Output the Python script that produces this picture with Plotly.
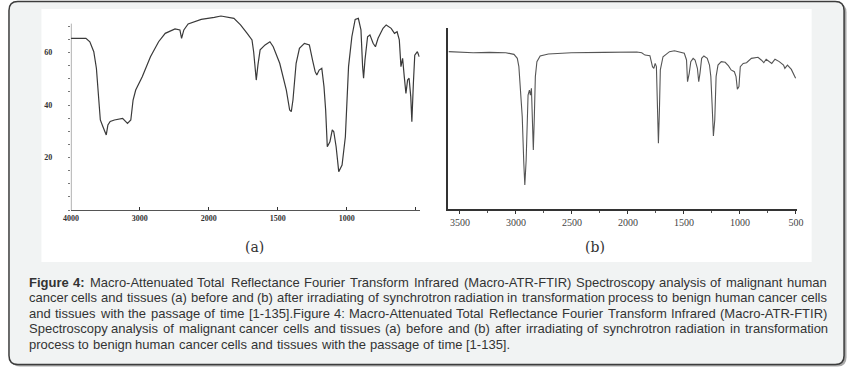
import plotly.graph_objects as go

W, H = 855, 368

# ---------------- data ----------------
# Panel (a): wavenumber (cm-1) vs transmittance (%)
a_wavenumber = [4000, 3782, 3725, 3668, 3630, 3606, 3573, 3535, 3487, 3463, 3430, 3369, 3250, 3179, 3131,
                3098, 3060, 2965, 2917, 2846, 2728, 2632, 2490, 2419, 2395, 2362, 2300, 2110, 1960, 1912,
                1818, 1770, 1722, 1687, 1675, 1663, 1656, 1644, 1628, 1592, 1557, 1533, 1486, 1438, 1414,
                1402, 1390, 1367, 1343, 1307, 1271, 1248, 1229, 1217, 1200, 1181, 1165, 1153, 1141, 1122,
                1105, 1094, 1077, 1058, 1034, 1010, 999, 987, 963, 939, 916, 897, 885, 878, 868,
                849, 832, 809, 792, 773, 737, 714, 678, 654, 635, 619, 607, 595, 583, 571,
                559, 548, 536, 528, 517, 507, 488, 474]
a_transmittance = [65.4, 65.4, 64.1, 60.3, 54.0, 45.7, 34.3, 31.7, 28.6, 32.4, 33.7, 34.3, 34.9, 33.0, 34.3,
                   41.9, 45.7, 50.8, 54.0, 58.4, 64.1, 67.3, 69.0, 68.6, 65.4, 68.6, 70.9, 72.6, 73.4, 73.9,
                   73.0, 70.5, 67.3, 64.8, 60.3, 54.6, 49.5, 55.2, 61.0, 62.9, 64.1, 62.2, 55.9, 45.7, 38.1,
                   37.5, 41.9, 55.9, 61.6, 63.5, 62.9, 57.1, 52.7, 51.4, 53.3, 54.0, 47.0, 38.1, 24.1, 26.0,
                   30.5, 29.8, 24.1, 14.6, 17.1, 27.9, 43.2, 54.6, 66.0, 72.6, 73.0, 68.6, 54.6, 50.2, 57.1,
                   66.0, 66.7, 63.5, 62.2, 65.4, 69.2, 70.5, 69.2, 67.3, 67.9, 64.8, 54.6, 57.8, 50.8, 44.4,
                   49.5, 50.2, 43.2, 33.6, 48.3, 59.0, 60.3, 58.4]
a_tick_wavenumbers = [4000, 3000, 2000, 1500, 1000, 500]
a_tick_labels = ["4000", "3000", "2000", "1500", "1000", ""]
a_y_ticks = [0, 5, 10, 15, 20, 25, 30, 35, 40, 45, 50, 55, 60, 65, 70]
a_y_labels = ["", "", "", "", "20", "", "", "", "40", "", "", "", "60", "", ""]

# Panel (b): wavenumber (cm-1) vs transmittance (arbitrary units)
b_wavenumber = [3602, 3383, 3237, 3091, 3018, 2988, 2974, 2959, 2944, 2930, 2921, 2909, 2901, 2892, 2880,
                2871, 2862, 2857, 2845, 2836, 2827, 2813, 2784, 2711, 2506, 2213, 1921, 1877, 1848, 1804,
                1781, 1769, 1757, 1746, 1734, 1728, 1719, 1711, 1687, 1629, 1585, 1541, 1497, 1477, 1468,
                1453, 1439, 1418, 1401, 1380, 1368, 1357, 1342, 1322, 1292, 1272, 1260, 1249, 1237, 1225,
                1213, 1196, 1167, 1132, 1102, 1079, 1050, 1035, 1023, 1009, 997, 971, 941, 898, 839,
                810, 787, 766, 737, 716, 687, 649, 611, 599, 576, 541, 503]
b_transmittance = [87.1, 86.5, 86.7, 86.5, 85.6, 83.4, 78.8, 64.1, 51.2, 25.4, 13.4, 27.2, 49.3, 63.1, 65.9,
                   63.1, 66.9, 56.7, 32.8, 51.2, 73.3, 81.6, 84.7, 85.8, 86.5, 86.7, 86.9, 86.5, 85.2, 84.9,
                   78.8, 77.9, 80.6, 78.8, 45.7, 36.5, 54.9, 77.0, 84.3, 87.1, 87.6, 87.1, 86.2, 82.5, 70.5,
                   75.1, 81.6, 83.4, 82.5, 77.9, 70.5, 75.1, 83.4, 84.7, 83.4, 79.7, 73.3, 58.5, 40.5, 49.3,
                   73.3, 79.7, 81.6, 81.2, 79.2, 77.0, 76.0, 73.3, 66.3, 67.8, 78.8, 80.6, 81.0, 83.4, 84.0,
                   82.5, 81.0, 82.9, 81.6, 80.6, 82.9, 81.6, 79.7, 77.9, 79.7, 77.3, 72.4]
b_tick_values = [3500, 3000, 2500, 2000, 1500, 1000, 500]

caption_bold = "Figure 4:"
caption_lines = [
    "Figure 4: Macro-Attenuated Total Reflectance Fourier Transform Infrared (Macro-ATR-FTIR) Spectroscopy analysis of malignant human",
    "cancer cells and tissues (a) before and (b) after irradiating of synchrotron radiation in transformation process to benign human cancer cells",
    "and tissues with the passage of time [1-135].Figure 4: Macro-Attenuated Total Reflectance Fourier Transform Infrared (Macro-ATR-FTIR)",
    "Spectroscopy analysis of malignant cancer cells and tissues (a) before and (b) after irradiating of synchrotron radiation in transformation",
    "process to benign human cancer cells and tissues with the passage of time [1-135].",
]


# split-scale axis of panel (a): 1000 cm-1 per division above 2000, 500 cm-1 per division below
def split_scale(wn):
    return (4000 - wn) / 1000 if wn >= 2000 else 2 + (2000 - wn) / 500


def px(x):
    return x / W


def py(y):
    return 1 - y / H


def rrect(x0, y0, x1, y1, r):
    pts = [("M", x0 + r, y0), ("L", x1 - r, y0), ("Q", x1, y0, x1, y0 + r), ("L", x1, y1 - r),
           ("Q", x1, y1, x1 - r, y1), ("L", x0 + r, y1), ("Q", x0, y1, x0, y1 - r), ("L", x0, y0 + r),
           ("Q", x0, y0, x0 + r, y0)]
    s = ""
    for p in pts:
        cmd = p[0]
        coords = p[1:]
        parts = []
        for i in range(0, len(coords), 2):
            parts.append(f"{px(coords[i]):.5f},{py(coords[i + 1]):.5f}")
        s += cmd + " " + " ".join(parts) + " "
    return s + "Z"


# Arial / Liberation Sans advance widths (1/1000 em) for justified caption layout
_REG = {" ": 278, "a": 556, "b": 556, "c": 500, "d": 556, "e": 556, "f": 278, "g": 556, "h": 556, "i": 222,
        "j": 222, "k": 500, "l": 222, "m": 833, "n": 556, "o": 556, "p": 556, "q": 556, "r": 333, "s": 500,
        "t": 278, "u": 556, "v": 500, "w": 722, "x": 500, "y": 500, "z": 500,
        "A": 667, "B": 667, "C": 722, "D": 722, "E": 667, "F": 611, "G": 778, "H": 722, "I": 278, "J": 500,
        "K": 667, "L": 556, "M": 833, "N": 722, "O": 778, "P": 667, "Q": 778, "R": 722, "S": 667, "T": 611,
        "U": 722, "V": 667, "W": 944, "X": 667, "Y": 667, "Z": 611,
        "(": 333, ")": 333, "[": 278, "]": 278, "-": 333, ".": 278, ":": 278, ",": 278}
_BOLD = {"F": 611, "i": 278, "g": 611, "u": 611, "r": 389, "e": 556, "4": 556, ":": 333, " ": 278}


def text_width(s, size, bold=False):
    tbl = _BOLD if bold else _REG
    return sum(tbl.get(ch, _REG.get(ch, 556)) for ch in s) * size / 1000


fig = go.Figure()

fig.add_trace(go.Scatter(
    x=[split_scale(w) for w in a_wavenumber], y=a_transmittance, mode="lines",
    line=dict(color="#3a3a3a", width=1.2), xaxis="x", yaxis="y", showlegend=False, hoverinfo="skip"))

fig.add_trace(go.Scatter(
    x=b_wavenumber, y=b_transmittance, mode="lines",
    line=dict(color="#555555", width=1.1), xaxis="x2", yaxis="y2", showlegend=False, hoverinfo="skip"))

tick_font_a = dict(family="Liberation Serif", size=8, color="#333333")
tick_font_b = dict(family="Liberation Serif", size=10, color="#444444")

fig.update_layout(
    width=W, height=H, margin=dict(l=0, r=0, t=0, b=0),
    paper_bgcolor="white", plot_bgcolor="rgba(0,0,0,0)",
    xaxis=dict(domain=[px(64), px(419)], range=[0, 5.057], showgrid=False, zeroline=False,
               showline=True, linecolor="#555555", linewidth=1,
               tickmode="array", tickvals=[split_scale(w) for w in a_tick_wavenumbers],
               ticktext=["<b>%s</b>" % t if t else "" for t in a_tick_labels],
               ticks="inside", ticklen=3, tickcolor="#333333", tickfont=tick_font_a, anchor="y"),
    yaxis=dict(domain=[py(210), py(10.5)], range=[0, 76], showgrid=False, zeroline=False,
               showline=False, tickmode="array", tickvals=a_y_ticks,
               ticktext=["<b>%s</b>" % t if t else "" for t in a_y_labels],
               ticks="outside", ticklen=2, tickcolor="#777777", tickfont=tick_font_a,
               ticklabelstandoff=14, anchor="x"),
    xaxis2=dict(domain=[px(448.3), px(802.7)], range=[3603, 494], showgrid=False, zeroline=False,
                showline=True, linecolor="#333333", linewidth=1.5,
                tickmode="array", tickvals=b_tick_values, ticktext=[str(v) for v in b_tick_values],
                ticks="outside", ticklen=3, tickcolor="#333333", tickfont=tick_font_b,
                minor=dict(ticks="outside", ticklen=2, dtick=250, tickcolor="#555555"),
                anchor="y2"),
    yaxis2=dict(domain=[py(209.3), py(28.3)], range=[0, 100], showgrid=False, zeroline=False,
                showline=True, linecolor="#333333", linewidth=1.5, showticklabels=False, ticks="",
                anchor="x2"),
)

shapes = [
    # outer box shadow
    dict(type="path", path=rrect(3, 3.5, 853.5, 366.5, 9), xref="paper", yref="paper",
         fillcolor="#a8a8a8", line=dict(width=0), layer="below"),
    # outer box
    dict(type="path", path=rrect(1, 1.5, 851, 364.5, 9), xref="paper", yref="paper",
         fillcolor="#f1f3f3", line=dict(color="#3c3c3c", width=1.5), layer="below"),
    # white image area
    dict(type="rect", x0=px(34), x1=px(818), y0=py(262), y1=py(9), xref="paper", yref="paper",
         fillcolor="white", line=dict(width=0), layer="below"),
    # y axis line of panel (a)
    dict(type="line", x0=0, x1=0, y0=0, y1=71, xref="x", yref="y",
         line=dict(color="#555555", width=1)),
]
fig.update_layout(shapes=shapes)

annotations = [
    dict(text="(a)", x=px(251), y=py(247), xref="paper", yref="paper", showarrow=False,
         font=dict(family="DejaVu Serif", size=14, color="#333333"), xanchor="center", yanchor="middle"),
    dict(text="(b)", x=px(597), y=py(247), xref="paper", yref="paper", showarrow=False,
         font=dict(family="DejaVu Serif", size=14, color="#333333"), xanchor="center", yanchor="middle"),
]

# justified caption: every word placed separately
CAP_SIZE = 13
CAP_LEFT, CAP_RIGHT = 21, 833
line_y = [282, 297.5, 313, 328.5, 344]
bold_words = caption_bold.split(" ")
for li, (txt, yc) in enumerate(zip(caption_lines, line_y)):
    words = txt.split(" ")
    flags = [li == 0 and wi < len(bold_words) for wi in range(len(words))]
    widths = [text_width(w, CAP_SIZE, b) for w, b in zip(words, flags)]
    last = li == len(caption_lines) - 1
    if last or len(words) < 2:
        gap = text_width(" ", CAP_SIZE) + 0.8
    else:
        gap = (CAP_RIGHT - CAP_LEFT - sum(widths)) / (len(words) - 1)
    xc = CAP_LEFT
    for w, b, wd in zip(words, flags, widths):
        annotations.append(dict(
            text=("<b>%s</b>" % w) if b else w, x=px(xc - 1), y=py(yc), xref="paper", yref="paper",
            showarrow=False, xanchor="left", yanchor="middle", align="left", borderpad=0,
            font=dict(family="Liberation Sans", size=CAP_SIZE, color="#333333")))
        xc += wd + gap
fig.update_layout(annotations=annotations)

fig.write_html("out.html")
